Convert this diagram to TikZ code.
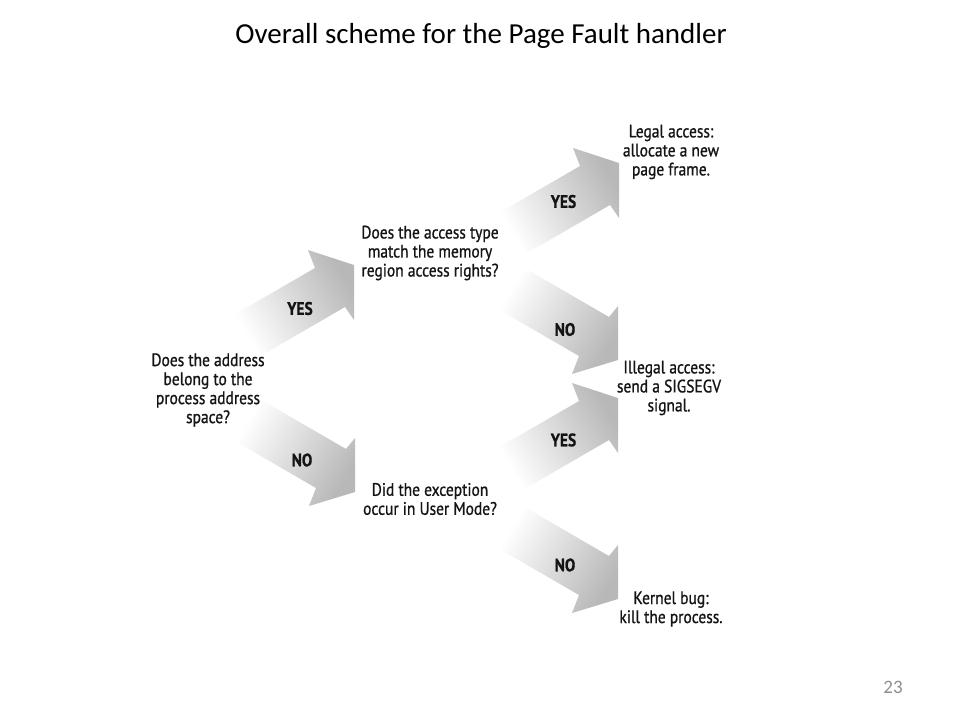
\documentclass[tikz,border=0pt]{standalone}
\usepackage{fontspec}
\setmainfont{Carlito}
\newfontfamily\diagfont[FakeStretch=0.86,FakeBold=0.9]{PT Sans}
\definecolor{headgray}{gray}{0.72}
\definecolor{textdark}{gray}{0.08}
\definecolor{pagegray}{HTML}{8E8E8E}

\begin{document}
\begin{tikzpicture}[x=1pt,y=-1pt,
  question/.style={align=center,font=\diagfont\fontsize{18}{19}\selectfont,text=textdark,inner sep=0pt},
  outcome/.style={question},
  choice/.style={font=\diagfont\bfseries\fontsize{18}{19}\selectfont,text=textdark,inner sep=0pt},
  uparrow/.style={left color=white,right color=headgray,shading angle=120},
  downarrow/.style={left color=white,right color=headgray,shading angle=60}]
\useasboundingbox (0,0) rectangle (960,720);
\fill[white] (0,0) rectangle (960,720);

% block arrows, drawn relative to the outer barb of the head
\shade[uparrow,shift={(308,250)}]
  (0,0) -- (46,15) -- (46,70) -- (37,57) -- (-45,104.5) -- (-75,65.5) -- (7,18) -- cycle;
\shade[downarrow,shift={(309,506)}]
  (0,0) -- (46,-14) -- (46,-68) -- (37,-57) -- (-45,-104.5) -- (-75,-65.5) -- (7,-18) -- cycle;
\shade[uparrow,shift={(573,148)}]
  (0,0) -- (46,15) -- (46,70) -- (37,57) -- (-45,104.5) -- (-75,65.5) -- (7,18) -- cycle;
\shade[downarrow,shift={(572,374)}]
  (0,0) -- (46,-14) -- (46,-68) -- (37,-57) -- (-45,-104.5) -- (-75,-65.5) -- (7,-18) -- cycle;
\shade[uparrow,shift={(572,383)}]
  (0,0) -- (46,15) -- (46,70) -- (37,57) -- (-45,104.5) -- (-75,65.5) -- (7,18) -- cycle;
\shade[downarrow,shift={(572,613)}]
  (0,0) -- (46,-14) -- (46,-68) -- (37,-57) -- (-45,-104.5) -- (-75,-65.5) -- (7,-18) -- cycle;

% title and slide number
\node[anchor=base,font=\fontsize{29}{34}\selectfont] (title) at (481,43)
  {Overall scheme for the Page Fault handler};
\node[anchor=base,text=pagegray,font=\fontsize{19}{22}\selectfont] (pagenum) at (893,693) {23};

% decisions
\node[question] (inspace) at (208,390)
  {Does the address\\belong to the\\process address\\space?};
\node[question] (rights) at (430,253)
  {Does the access type\\match the memory\\region access rights?};
\node[question] (usermode) at (430,499)
  {Did the exception\\occur in User Mode?};

% outcomes
\node[outcome] (legal) at (671,152)
  {Legal access:\\allocate a new\\page frame.};
\node[outcome] (illegal) at (669,388)
  {Illegal access:\\send a SIGSEGV\\signal.};
\node[outcome] (kbug) at (671,609)
  {Kernel bug:\\kill the process.};

% branch labels
\node[choice] (yesA) at (300,308.5) {YES};
\node[choice] (noA)  at (302,460) {NO};
\node[choice] (yesB) at (563.5,201.5) {YES};
\node[choice] (noB)  at (565,329.5) {NO};
\node[choice] (yesC) at (563.5,440) {YES};
\node[choice] (noC)  at (565,565) {NO};
\end{tikzpicture}
\end{document}
